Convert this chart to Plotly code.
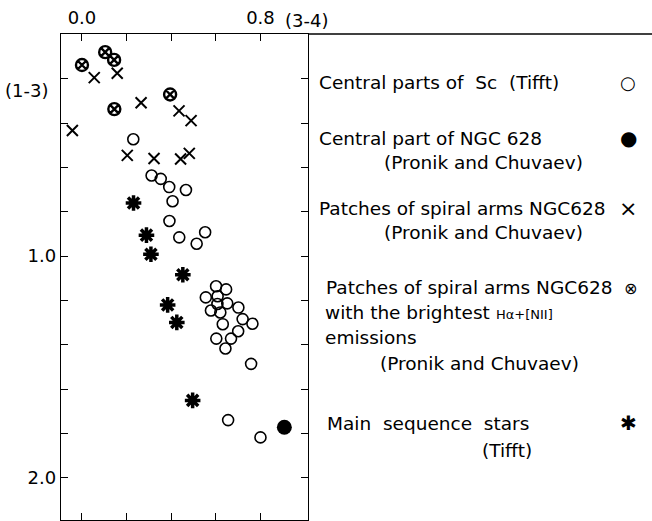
import plotly.graph_objects as go

# ---- data (x = colour index (3-4), y = colour index (1-3)) ----
sc_x = [0.230, 0.312, 0.353, 0.391, 0.466, 0.406, 0.392, 0.436, 0.552, 0.514,
        0.601, 0.646, 0.555, 0.608, 0.651, 0.607, 0.578, 0.620, 0.701, 0.720,
        0.764, 0.631, 0.700, 0.602, 0.668, 0.643, 0.758, 0.655, 0.800]
sc_y = [0.472, 0.636, 0.651, 0.688, 0.701, 0.752, 0.841, 0.915, 0.892, 0.944,
        1.136, 1.150, 1.186, 1.181, 1.213, 1.216, 1.245, 1.254, 1.232, 1.284,
        1.305, 1.307, 1.339, 1.372, 1.372, 1.417, 1.486, 1.740, 1.818]

ngc_center_x = [0.907]
ngc_center_y = [1.772]

arm_x = [-0.043, 0.055, 0.158, 0.265, 0.435, 0.489, 0.203, 0.323, 0.442, 0.481]
arm_y = [0.433, 0.194, 0.174, 0.307, 0.344, 0.388, 0.545, 0.559, 0.561, 0.536]

bright_x = [0.000, 0.104, 0.144, 0.395, 0.145]
bright_y = [0.137, 0.079, 0.114, 0.270, 0.336]

ms_x = [0.231, 0.289, 0.309, 0.452, 0.384, 0.425, 0.496]
ms_y = [0.760, 0.905, 0.991, 1.084, 1.220, 1.299, 1.651]

x_tickvals = [0.0, 0.2, 0.4, 0.6, 0.8]
x_ticktext = ["0.0", "", "", "", "0.8"]
y_tickvals = [0.2, 0.4, 0.6, 0.8, 1.0, 1.2, 1.4, 1.6, 1.8, 2.0]
y_ticktext = ["", "", "", "", "1.0", "", "", "", "", "2.0"]

W, H = 652, 521
ML, MR, MT, MB = 61, 344, 34, 1
PW, PH = W - ML - MR, H - MT - MB
FONT = "DejaVu Sans"
LEG = 18.5


def px(xp, yp):
    return (xp - ML) / PW, 1 - (yp - MT) / PH


fig = go.Figure()
fig.add_trace(go.Scatter(x=sc_x, y=sc_y, mode="markers",
                         marker=dict(symbol="circle-open", size=11, color="black",
                                     line=dict(width=1.6, color="black")),
                         name="Central parts of Sc (Tifft)"))
fig.add_trace(go.Scatter(x=ngc_center_x, y=ngc_center_y, mode="markers",
                         marker=dict(symbol="circle", size=15, color="black"),
                         name="Central part of NGC 628"))
fig.add_trace(go.Scatter(x=arm_x, y=arm_y, mode="markers",
                         marker=dict(symbol="x-thin-open", size=11, color="black",
                                     line=dict(width=2, color="black")),
                         name="Patches of spiral arms NGC628"))
fig.add_trace(go.Scatter(x=bright_x, y=bright_y, mode="markers",
                         marker=dict(symbol="circle-x-open", size=12, color="black",
                                     line=dict(width=2.4, color="black")),
                         name="Brightest patches"))
fig.add_trace(go.Scatter(x=ms_x, y=ms_y, mode="markers",
                         marker=dict(symbol="asterisk-open", size=13, color="black",
                                     line=dict(width=3.5, color="black")),
                         name="Main sequence stars (Tifft)"))

axis_common = dict(showline=True, linecolor="black", linewidth=1.3, mirror="ticks",
                   ticks="inside", ticklen=7, tickwidth=1.3, tickcolor="black",
                   showgrid=False, zeroline=False,
                   tickfont=dict(family=FONT, size=18, color="black"))

fig.update_xaxes(range=[-0.094, 1.013], side="top", tickmode="array",
                 tickvals=x_tickvals, ticktext=x_ticktext, ticklabelstandoff=2,
                 **axis_common)
fig.update_yaxes(range=[2.191, -0.003], tickmode="array",
                 tickvals=y_tickvals, ticktext=y_ticktext, ticklabelstandoff=0,
                 **axis_common)

annotations = []


def add_text(text, xp, yp, size=LEG, xanchor="left"):
    x, y = px(xp, yp)
    annotations.append(dict(text=text, x=x, y=y, xref="paper", yref="paper",
                            xanchor=xanchor, yanchor="middle", showarrow=False,
                            font=dict(family=FONT, size=size, color="black")))


# axis names
add_text("(3-4)", 283, 20, size=18)
add_text("(1-3)", 3, 90, size=18)

# legend texts
add_text("Central parts of  Sc  (Tifft)", 317, 82)
add_text("○", 628, 82, size=18, xanchor="center")
add_text("Central part of NGC 628", 317, 138)
add_text("●", 628, 138, size=20, xanchor="center")
add_text("(Pronik and Chuvaev)", 382, 162)
add_text("Patches of spiral arms NGC628", 317, 208)
add_text("×", 628, 208, size=22, xanchor="center")
add_text("(Pronik and Chuvaev)", 382, 233)
add_text("Patches of spiral arms NGC628", 324, 287)
add_text("⊗", 630, 288, size=16, xanchor="center")
add_text("with the brightest", 323, 312)
add_text("Hα+[NII]", 494, 314, size=13)
add_text("emissions", 323, 337)
add_text("(Pronik and Chuvaev)", 378, 363)
add_text("Main  sequence  stars", 325, 423)
add_text("✱", 628, 423, size=20, xanchor="center")
add_text("(Tifft)", 480, 450)

x_right, _ = px(W, 0)
fig.update_layout(
    width=W, height=H,
    margin=dict(l=ML, r=MR, t=MT, b=MB),
    paper_bgcolor="white", plot_bgcolor="white",
    showlegend=False,
    annotations=annotations,
    shapes=[dict(type="line", xref="paper", yref="paper", x0=1, x1=x_right,
                 y0=1, y1=1, line=dict(color="black", width=1.3))],
)

fig.write_html("out.html",
               config={"displayModeBar": False},
               post_script="document.body.style.margin='0';"
                           "document.body.style.overflow='hidden';")
